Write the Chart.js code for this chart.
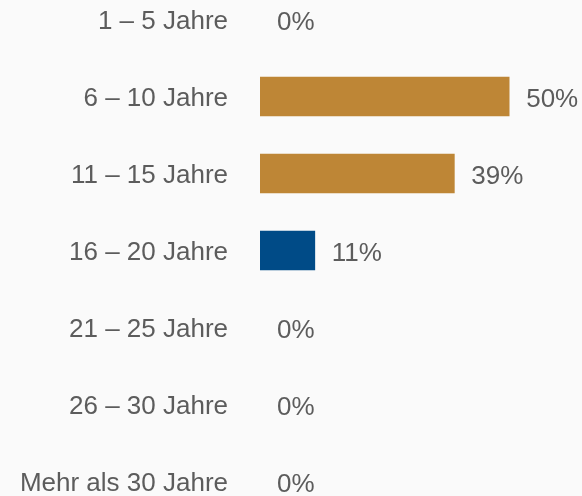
<!DOCTYPE html>
<html>
<head>
<meta charset="utf-8">
<script src="https://cdn.jsdelivr.net/npm/chart.js@4"></script>
<style>
  html, body { margin: 0; padding: 0; background: #fafafa; }
  #wrap { width: 582px; height: 496px; }
</style>
</head>
<body>
<div id="wrap"><canvas id="barChart" width="582" height="496"></canvas></div>
<script>
const categories = ['1 – 5 Jahre', '6 – 10 Jahre', '11 – 15 Jahre', '16 – 20 Jahre', '21 – 25 Jahre', '26 – 30 Jahre', 'Mehr als 30 Jahre'];
const shares = [0, 50, 39, 11, 0, 0, 0];
const barColors = ['#be8636', '#be8636', '#be8636', '#004b87', '#be8636', '#be8636', '#be8636'];

const FONT = '"Liberation Sans", Arial, sans-serif';
const TEXT = '#5c5c5c';

// Prozentwerte rechts neben den Balken
const valueLabels = {
    id: 'valueLabels',
    afterDatasetsDraw(chart) {
        const ctx = chart.ctx;
        const meta = chart.getDatasetMeta(0);
        ctx.save();
        ctx.font = '26px ' + FONT;
        ctx.fillStyle = TEXT;
        ctx.textAlign = 'left';
        ctx.textBaseline = 'middle';
        meta.data.forEach((bar, i) => {
            ctx.fillText(shares[i] + '%', bar.x + 17, bar.y + 3);
        });
        ctx.restore();
    }
};

new Chart(document.getElementById('barChart'), {
    type: 'bar',
    data: {
        labels: categories,
        datasets: [{
            data: shares,
            // 0%-Balken nicht als Haarlinie zeichnen
            backgroundColor: (c) => shares[c.dataIndex] === 0 ? 'rgba(0,0,0,0)' : barColors[c.dataIndex],
            barThickness: 39,
        }],
    },
    options: {
        indexAxis: 'y',
        responsive: false,
        animation: false,
        layout: { padding: { left: 17, right: 23, top: 19.5, bottom: 14.5 } },
        plugins: { legend: { display: false }, tooltip: { enabled: false } },
        scales: {
            x: { display: false, min: 0, max: 60 },
            y: {
                offset: false,
                grid: { display: false, drawTicks: false },
                border: { display: false },
                ticks: { color: TEXT, font: { family: FONT, size: 26 }, padding: 32, labelOffset: 2.5 },
                afterFit(scale) {
                    scale.width = 243;
                    scale.paddingTop = 0;
                    scale.paddingBottom = 0;
                },
            },
        },
    },
    plugins: [valueLabels],
});
</script>
</body>
</html>
